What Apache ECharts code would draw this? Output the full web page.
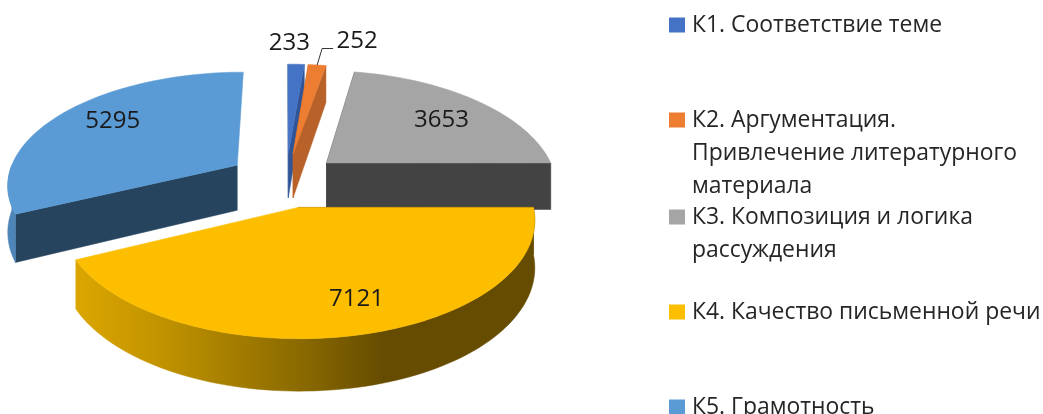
<!DOCTYPE html>
<html>
<head>
<meta charset="utf-8">
<title>chart</title>
<style>
  html, body { margin: 0; padding: 0; background: #fff; overflow: hidden; }
  #main { width: 1043px; height: 414px; }
</style>
<script src="https://cdn.jsdelivr.net/npm/echarts@6/dist/echarts.min.js"></script>
</head>
<body>
<div id="main"></div>
<script>
var categories = [
  'К1. Соответствие теме',
  'К2. Аргументация.\nПривлечение литературного\nматериала',
  'К3. Композиция и логика\nрассуждения',
  'К4. Качество письменной речи',
  'К5. Грамотность'
];
var values = [233, 252, 3653, 7121, 5295];
var topColors = ['#4472c4', '#ed7d31', '#a5a5a5', '#fdbe00', '#5b9bd5'];
var cutColors = ['#2f5597', '#b8622a', '#434343', '#664c00', '#27445f'];
var rimColors = ['#2f5597', '#b8622a', '#6e6e6e', null, '#4e85b8'];
// first line of each legend entry, y centre
var legendY = [25, 120, 217, 312, 407];
// draw order, back to front
var drawOrder = [4, 2, 0, 1, 3];
// label position, relative radius plus small shift
var labelR = [1.2, 1.2, 0.75, 0.65, 0.75];
var labelDx = [-8, 36, 0, 22, 7];
var labelDy = [-6, -9, 6, 12, -3];

var FONT = '"Open Sans", "Noto Sans", sans-serif';
var explode = 0.235;
// the slices do not share one perspective in the original, so each has its own view
var views = [
  { cx: 286, cy: 180, R: 231, Ry: 117, k: 0.2, d: 46 },
  { cx: 286, cy: 180, R: 231, Ry: 117, k: 0.2, d: 46 },
  { cx: 286, cy: 180, R: 231, Ry: 117, k: 0.2, d: 48 },
  { cx: 286, cy: 181, R: 230, Ry: 112.5, k: 0.1, d: 46 },
  { cx: 282, cy: 179, R: 230, Ry: 112, k: 0.16, d: 46 }
];
// does the closing cut face of the slice show
var showEndCut = [true, true, true, false, false];

var total = 0;
for (var i = 0; i < values.length; i++) total += values[i];

var startAngle = [], endAngle = [];
var acc = 0;
for (var i = 0; i < values.length; i++) {
  startAngle.push(acc / total * 2 * Math.PI);
  acc += values[i];
  endAngle.push(acc / total * 2 * Math.PI);
}

// slice radius r at angle a (clockwise from the back) -> screen point
function project(idx, r, a, down) {
  var v = views[idx];
  var mid = (startAngle[idx] + endAngle[idx]) / 2;
  var X = explode * Math.sin(mid) + r * Math.sin(a);
  var V = -explode * Math.cos(mid) - r * Math.cos(a);
  var s = 1 / (1 - v.k * V);
  return [v.cx + v.R * X * s, v.cy + v.Ry * V * s + (down ? v.d * s : 0)];
}

function arcPoints(idx, a0, a1, down) {
  var pts = [];
  var n = Math.max(2, Math.ceil((a1 - a0) / 0.03));
  for (var k = 0; k <= n; k++) {
    pts.push(project(idx, 1, a0 + (a1 - a0) * k / n, down));
  }
  return pts;
}

function poly(points, fill, z2) {
  return {
    type: 'polygon',
    shape: { points: points },
    style: { fill: fill, stroke: fill, lineWidth: 0.5 },
    z2: z2
  };
}

function cutWall(idx, a) {
  return [
    project(idx, 0, a, false),
    project(idx, 1, a, false),
    project(idx, 1, a, true),
    project(idx, 0, a, true)
  ];
}

function renderSlice(params, api) {
  var idx = api.value(0);
  var a0 = startAngle[idx], a1 = endAngle[idx], mid = (a0 + a1) / 2;
  var children = [];

  // cut faces
  children.push(poly(cutWall(idx, a0), cutColors[idx], 1));
  if (showEndCut[idx]) {
    children.push(poly(cutWall(idx, a1), cutColors[idx], 1));
  }

  // outer rim, only the part facing the viewer
  var f0 = Math.max(a0, Math.PI / 2), f1 = Math.min(a1, Math.PI * 3 / 2);
  if (f1 > f0) {
    var rim = arcPoints(idx, f0, f1, false).concat(arcPoints(idx, f0, f1, true).reverse());
    var rimFill = rimColors[idx];
    if (idx === 3) {
      // yellow rim is shaded left to right in the original
      rimFill = new echarts.graphic.LinearGradient(1, 0, 0, 0, [
        { offset: 0, color: '#664c00' },
        { offset: 0.33, color: '#664c00' },
        { offset: 0.51, color: '#8a6a00' },
        { offset: 0.83, color: '#c49500' },
        { offset: 1, color: '#dba600' }
      ]);
    }
    children.push(poly(rim, rimFill, 2));
  }

  // top face
  var top = [project(idx, 0, a0, false)].concat(arcPoints(idx, a0, a1, false));
  children.push(poly(top, topColors[idx], 3));

  // label
  var lp = project(idx, labelR[idx], mid, false);
  children.push({
    type: 'text',
    z2: 5,
    style: {
      x: lp[0] + labelDx[idx],
      y: lp[1] + labelDy[idx],
      text: String(api.value(1)),
      fill: '#1a1a1a',
      font: '24px ' + FONT,
      align: 'center',
      verticalAlign: 'middle'
    }
  });

  // leader line for the small orange slice
  if (idx === 1) {
    var edge = project(idx, 1, mid, false);
    var ly = lp[1] + labelDy[idx] + 7;
    children.push({
      type: 'polyline',
      z2: 4,
      shape: { points: [edge, [edge[0] + 5, ly], [edge[0] + 16, ly]] },
      style: { fill: 'none', stroke: '#333', lineWidth: 1 }
    });
  }

  return { type: 'group', children: children };
}

var series = [];
for (var o = 0; o < drawOrder.length; o++) {
  var c = drawOrder[o];
  series.push({
    type: 'custom',
    name: categories[c],
    coordinateSystem: 'none',
    renderItem: renderSlice,
    silent: true,
    animation: false,
    itemStyle: { color: topColors[c] },
    encode: { value: 1 },
    data: [[c, values[c]]]
  });
}

var legends = [];
for (var i = 0; i < categories.length; i++) {
  var lines = categories[i].split('\n').length;
  legends.push({
    show: true,
    orient: 'vertical',
    left: 669,
    top: legendY[i] - (2 * lines - 1) * 33 / 2,
    padding: 0,
    selectedMode: false,
    icon: 'rect',
    itemWidth: 16,
    itemHeight: 15,
    itemGap: 0,
    data: [categories[i]],
    textStyle: { fontFamily: 'Open Sans', fontSize: 22.9, lineHeight: 33, color: '#262626', padding: [0, 0, 0, 2] },
    // blank lines keep the marker next to the first line of the text
    formatter: function (name) {
      var n = name.split('\n').length;
      return new Array(n).join('\n') + name;
    }
  });
}

var chart = echarts.init(document.getElementById('main'), null, { renderer: 'canvas' });
chart.setOption({
  backgroundColor: '#ffffff',
  animation: false,
  legend: legends,
  series: series
});
</script>
</body>
</html>
